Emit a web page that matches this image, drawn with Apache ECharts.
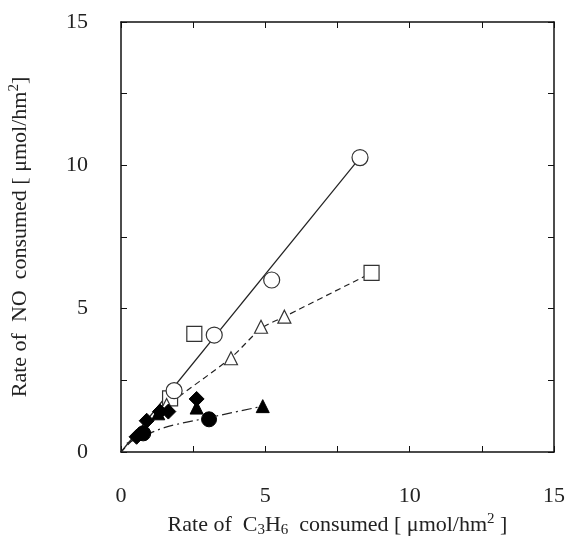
<!DOCTYPE html>
<html>
<head>
    <meta charset="utf-8">
    <title>NO vs C3H6</title>
    <script src="https://cdn.jsdelivr.net/npm/echarts@6/dist/echarts.min.js"></script>
</head>
<body style="margin:0">
<div id="main" style="width:567px;height:542px;"></div>
<script type="text/javascript">
    // ticks
    var tickValues = [0, 5, 10, 15];

    // measured points [C3H6, NO]
    var openCircle = [[1.84, 2.14], [3.23, 4.08], [5.22, 6.0], [8.28, 10.27]];
    var openSquare = [[1.70, 1.87], [2.54, 4.12], [8.68, 6.25]];
    var openTriangle = [[1.58, 1.64], [3.81, 3.27], [4.85, 4.37], [5.66, 4.72]];
    var filledDiamond = [[0.54, 0.53], [0.89, 1.09], [1.35, 1.41], [1.64, 1.41], [2.62, 1.85]];
    var filledTriangle = [[1.29, 1.35], [2.62, 1.55], [4.91, 1.6]];
    var filledCircle = [[0.77, 0.65], [3.05, 1.14]];

    // fitted lines
    var solidFit = [[0, 0], [8.28, 10.27]];
    var dashedFit = [[0, 0], [1.6, 1.6], [3.8, 3.28], [4.85, 4.3], [5.66, 4.72], [8.68, 6.25]];
    var dashDotFit = [[0.2, 0.3], [1.5, 0.85], [3.05, 1.2], [4.91, 1.6]];

    var font = 'Liberation Serif';
    var myChart = echarts.init(document.getElementById('main'));

    function axisBase(pos, showLabel) {
        return {
            type: 'value', min: 0, max: 15, interval: 5, position: pos,
            axisLine: {show: true, onZero: false, lineStyle: {color: '#111', width: 1.5}},
            axisTick: {show: true, inside: true, length: 6, lineStyle: {color: '#111'}},
            minorTick: {show: true, splitNumber: 2, length: 6, lineStyle: {color: '#111'}},
            splitLine: {show: false},
            axisLabel: {show: showLabel, fontFamily: font, fontSize: 22, color: '#222'}
        };
    }

    var xMain = axisBase('bottom', true);
    xMain.axisLabel.margin = 33;
    xMain.name = '{t|Rate of  C}{s|3}{t|H}{s|6}{t|  consumed [ μmol/hm}{p|2}{t| ]}';
    xMain.nameLocation = 'middle';
    xMain.nameGap = 59;
    xMain.nameTextStyle = {
        rich: {
            t: {fontFamily: font, fontSize: 22, color: '#222'},
            s: {fontFamily: font, fontSize: 15, color: '#222', padding: [11, 0, 0, 0]},
            p: {fontFamily: font, fontSize: 15, color: '#222', padding: [0, 0, 11, 0]}
        }
    };
    var xTop = axisBase('top', false);

    var yMain = axisBase('left', true);
    yMain.axisLabel.margin = 33;
    yMain.name = '{t|Rate of  NO  consumed [ μmol/hm}{p|2}{t|]}';
    yMain.nameLocation = 'middle';
    yMain.nameGap = 88;
    yMain.nameTextStyle = {
        rich: {
            t: {fontFamily: font, fontSize: 22, color: '#222'},
            p: {fontFamily: font, fontSize: 15, color: '#222', padding: [0, 0, 11, 0]}
        }
    };
    var yRight = axisBase('right', false);

    function markers(data, symbol, size, filled) {
        return {
            type: 'scatter', data: data, symbol: symbol, symbolSize: size,
            itemStyle: filled
                ? {color: '#000', borderColor: '#000', borderWidth: 1, opacity: 1}
                : {color: '#fff', borderColor: '#333', borderWidth: 1.2, opacity: 1},
            z: 5
        };
    }

    function fit(data, type) {
        return {
            type: 'line', data: data, smooth: 0.3, showSymbol: false, symbol: 'none',
            lineStyle: {color: '#222', width: 1.2, type: type}, z: 3
        };
    }

    option = {
        animation: false,
        backgroundColor: '#fff',
        grid: {left: 121, right: 13, top: 22, bottom: 90, outerBoundsMode: 'none', containLabel: false},
        xAxis: [xMain, xTop],
        yAxis: [yMain, yRight],
        series: [
            fit(solidFit, 'solid'),
            fit(dashedFit, [6, 4]),
            fit(dashDotFit, [10, 4, 2, 4]),
            markers(openSquare, 'rect', 15, false),
            markers(openTriangle, 'triangle', 13, false),
            markers(openCircle, 'circle', 16, false),
            markers(filledDiamond, 'diamond', 15, true),
            markers(filledTriangle, 'triangle', 13, true),
            markers(filledCircle, 'circle', 15, true)
        ]
    };

    myChart.setOption(option);
</script>
</body>
</html>
